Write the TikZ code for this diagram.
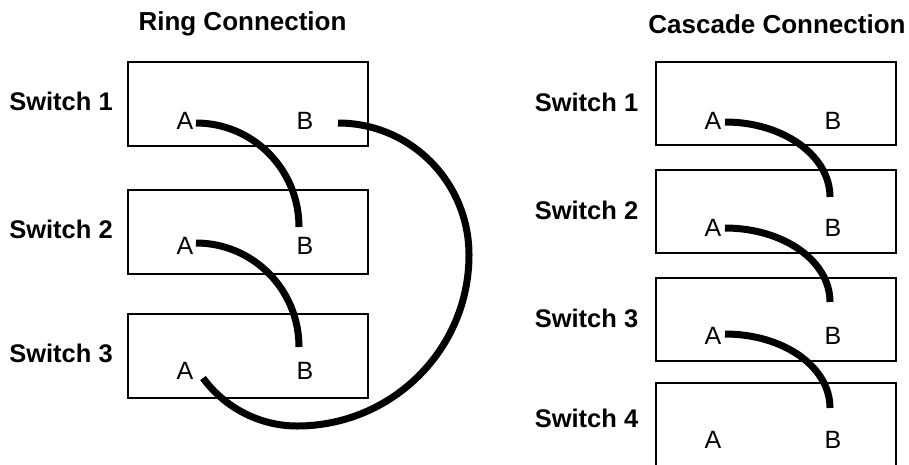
\documentclass[tikz,border=0pt]{standalone}
\usepackage{fontspec}
\setmainfont{Liberation Sans}
\begin{document}
\begin{tikzpicture}[x=1pt,y=1pt,
  switchbox/.style={draw,line width=2.5pt,minimum width=240pt,minimum height=84pt,inner sep=0pt},
  port/.style={font=\fontsize{25}{30}\selectfont,inner sep=0pt},
  swlabel/.style={font=\fontsize{25.5}{30}\selectfont\bfseries,inner sep=0pt},
  heading/.style={font=\fontsize{26}{30}\selectfont\bfseries,inner sep=0pt},
  cable/.style={line width=7pt,line cap=butt}]
\useasboundingbox (0,0) rectangle (909,-464);
\clip (0,0) rectangle (909,-464);

% ---------------- Ring connection ----------------
\node[heading] (ringtitle) at (242.5,-24) {Ring Connection};

\node[switchbox] (r1) at (248,-104) {};
\node[switchbox] (r2) at (248,-232) {};
\node[switchbox] (r3) at (248,-356) {};

\node[swlabel] (r1l) at (61,-101) {Switch 1};
\node[swlabel] (r2l) at (61,-229) {Switch 2};
\node[swlabel] (r3l) at (61,-353) {Switch 3};

\node[port] (r1A) at (185,-121) {A};
\node[port] (r1B) at (305,-121) {B};
\node[port] (r2A) at (185,-246) {A};
\node[port] (r2B) at (305,-246) {B};
\node[port] (r3A) at (185,-371) {A};
\node[port] (r3B) at (305,-371) {B};

% cable end points
\coordinate (r1Ac) at (196,-123);
\coordinate (r2Bc) at (299,-227);
\coordinate (r2Ac) at (196,-243);
\coordinate (r3Bc) at (299,-347);
\coordinate (r1Bc) at (338,-123);
\coordinate (loopE) at (469,-255);
\coordinate (loopS) at (297,-426);
\coordinate (r3Ac) at (203,-378);

\draw[cable] (r1Ac) .. controls +(57,0) and +(0,57.5) .. (r2Bc);
\draw[cable] (r2Ac) .. controls +(57,0) and +(0,57.5) .. (r3Bc);
\draw[cable] (r1Bc) .. controls +(72.5,0) and +(0,73) .. (loopE)
                    .. controls +(0,-94.5) and +(95,0) .. (loopS)
                    .. controls +(-37,0) and +(21.8,-29.9) .. (r3Ac);

% ---------------- Cascade connection ----------------
\node[heading] (castitle) at (777,-24) {Cascade Connection};

\node[switchbox,minimum height=83pt] (c1) at (776,-103.5) {};
\node[switchbox,minimum height=83pt] (c2) at (776,-211.5) {};
\node[switchbox,minimum height=83pt] (c3) at (776,-319.5) {};
\node[switchbox,minimum height=83pt] (c4) at (776,-424.5) {};

\node[swlabel] (c1l) at (586.5,-102.5) {Switch 1};
\node[swlabel] (c2l) at (586.5,-210.5) {Switch 2};
\node[swlabel] (c3l) at (586.5,-318.5) {Switch 3};
\node[swlabel] (c4l) at (586.5,-418) {Switch 4};

\node[port] (c1A) at (713,-121) {A};
\node[port] (c1B) at (833,-121) {B};
\node[port] (c2A) at (713,-228) {A};
\node[port] (c2B) at (833,-228) {B};
\node[port] (c3A) at (713,-336) {A};
\node[port] (c3B) at (833,-336) {B};
\node[port] (c4A) at (713,-440) {A};
\node[port] (c4B) at (833,-440) {B};

\coordinate (c1Ac) at (725,-122);
\coordinate (c2Bc) at (830,-197);
\coordinate (c2Ac) at (725,-228);
\coordinate (c3Bc) at (830,-302);
\coordinate (c3Ac) at (725,-334);
\coordinate (c4Bc) at (830,-408);

\draw[cable] (c1Ac) .. controls +(58,0) and +(0,41.5) .. (c2Bc);
\draw[cable] (c2Ac) .. controls +(58,0) and +(0,41.5) .. (c3Bc);
\draw[cable] (c3Ac) .. controls +(58,0) and +(0,41.5) .. (c4Bc);
\end{tikzpicture}
\end{document}
